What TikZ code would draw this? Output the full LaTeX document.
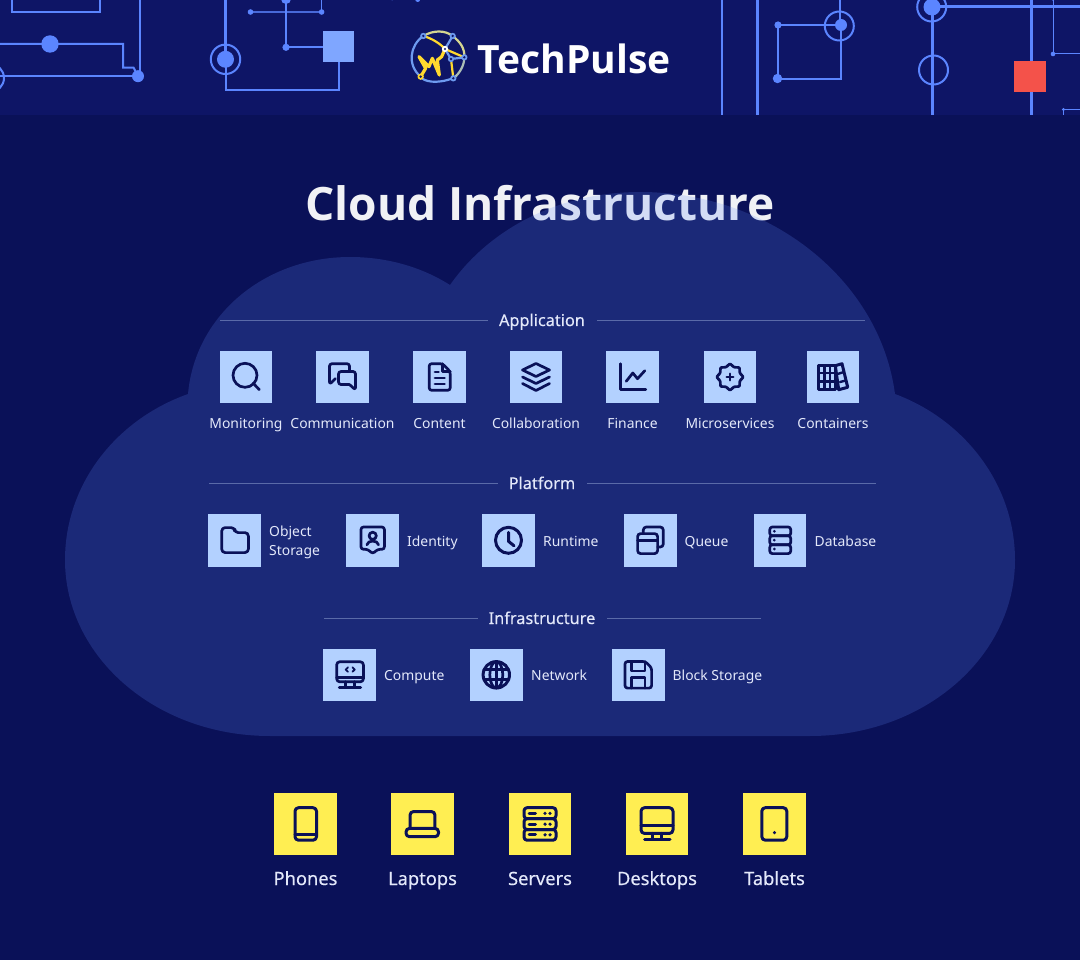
\documentclass[tikz,border=0pt]{standalone}
\usepackage{fontspec}
\setmainfont{Noto Sans}
\newfontfamily\medf[FakeBold=0.25]{Noto Sans}
\newfontfamily\boldf{Open Sans}
\definecolor{bgc}{HTML}{0A1158}
\definecolor{bandc}{HTML}{0E1566}
\definecolor{cloudc}{HTML}{5F89F8}
\definecolor{wire}{HTML}{5B85FF}
\definecolor{wirel}{HTML}{7FA6FF}
\definecolor{redc}{HTML}{F4524A}
\definecolor{tileb}{HTML}{B3D1FF}
\definecolor{tiley}{HTML}{FFEE52}
\definecolor{ink}{HTML}{0A1158}
\definecolor{labelc}{HTML}{E3E8FA}
\definecolor{rulec}{HTML}{5A6AA8}
\definecolor{logoy}{HTML}{FFD92E}
\definecolor{logob}{HTML}{6E9BF0}
\definecolor{logop}{HTML}{D5D690}
\tikzset{
  ic/.style={draw=ink,line width=2.7pt,line join=round,line cap=round},
  icy/.style={draw=ink,line width=3pt,line join=round,line cap=round},
  bluetile/.style={fill=tileb,draw=none,minimum size=52.5pt,inner sep=0pt,outer sep=0pt},
  yellowtile/.style={fill=tiley,draw=none,minimum size=62.5pt,inner sep=0pt,outer sep=0pt},
  lab/.style={text=labelc,font=\fontsize{13.9}{19}\selectfont,inner sep=0pt,align=left},
  labc/.style={lab,anchor=base},
  labl/.style={lab,anchor=base west},
  head/.style={text=labelc,font=\medf\fontsize{16.3}{18}\selectfont,inner sep=0pt,anchor=base},
  devlab/.style={text=labelc,font=\medf\fontsize{18.3}{22}\selectfont,inner sep=0pt,anchor=base},
  sec/.style={draw=rulec,line width=1pt},
  w/.style={draw=wire,line width=#1},
  w/.default=2pt,
  ring/.style={draw=wire,line width=2pt,fill=none},
  dot/.style={fill=wire,draw=none},
  %
  imon/.pic={\draw[ic] (-1,-1.7) circle (12); \draw[ic] (7.2,6.2)--(13.3,12.7);},
  icom/.pic={
    \draw[ic,rounded corners=2.5pt] (7,-6)--(7,-13.3)--(-13,-13.3)--(-13,7.5)--(-7,1.5);
    \draw[ic,rounded corners=2.5pt] (7,7.5)--(-4,7.5)--(-4,-5.5)--(13,-5.5)--(13,13)--(7,7.5);},
  idoc/.pic={
    \draw[ic,rounded corners=2.5pt] (3,-13.3)--(-10.3,-13.3)--(-10.3,13.3)--(10.7,13.3)--(10.7,-5.5)--cycle;
    \draw[ic] (3,-13.3)--(3,-5.5)--(10.7,-5.5);
    \draw[ic] (-4.5,-5)--(-1,-5) (-4.5,1)--(5,1) (-4.5,7)--(5,7);},
  ilay/.pic={
    \draw[ic] (0,-13.5)--(13.5,-7)--(0,-0.5)--(-13.5,-7)--cycle;
    \draw[ic] (-13.5,0)--(0,6.5)--(13.5,0);
    \draw[ic] (-13.5,6.5)--(0,13.5)--(13.5,6.5);},
  ifin/.pic={
    \draw[ic] (-12.3,-13.3)--(-12.3,12.7)--(13.3,12.7);
    \draw[ic] (-6.3,4.3)--(0.3,-4)--(5,1.7)--(12.3,-6.3);},
  imic/.pic={
    \draw[ic,rounded corners=1pt] (0:13.5)--(22.5:10.5)--(45:13.5)--(67.5:10.5)--(90:13.5)--(112.5:10.5)--(135:13.5)--(157.5:10.5)--(180:13.5)--(202.5:10.5)--(225:13.5)--(247.5:10.5)--(270:13.5)--(292.5:10.5)--(315:13.5)--(337.5:10.5)--cycle;
    \draw[ic] (-3.2,0)--(3.2,0) (0,-3.2)--(0,3.2);},
  iboo/.pic={
    \draw[ic,line width=3pt] (-14.3,-11.3) rectangle (2.3,12.7);
    \draw[ic,line width=2.4pt] (-8.7,-11.3)--(-8.7,12.7) (-3,-11.3)--(-3,12.7) (-14.3,-4)--(2.3,-4) (-14.3,4.3)--(2.3,4.3);
    \draw[ic,line width=3pt] (2.3,-11.3)--(9,-13.3)--(14.7,10.3)--(5.7,12.7)--cycle;
    \draw[ic,line width=2.4pt] (4.5,-3)--(11,-5) (7,5)--(13,3.5);},
  ifol/.pic={
    \draw[ic,rounded corners=3.5pt] (-13,-12.7)--(0,-12.7)--(0,-7.7)--(13.7,-7.7)--(13.7,12.3)--(-13,12.3)--cycle;},
  iide/.pic={
    \draw[ic,rounded corners=2.5pt] (-11.7,-13.3)--(11.7,-13.3)--(11.7,9)--(5,9)--(0,13.5)--(-5,9)--(-11.7,9)--cycle;
    \draw[ic] (0,-4.5) circle (3.6);
    \draw[ic] (-5.8,4.5) .. controls (-5,-0.5) and (5,-0.5) .. (5.8,4.5);},
  iclo/.pic={
    \draw[ic,line width=3pt] (0,0) circle (13);
    \draw[ic,line width=3pt] (0,-8)--(0,1)--(5.5,5.5);},
  ique/.pic={
    \draw[ic,rounded corners=3pt] (-12.7,-6.7) rectangle (7.3,13.3);
    \draw[ic] (-12.7,0)--(7.3,0);
    \draw[ic,rounded corners=3pt] (-7,-6.7)--(-7,-13.3)--(13,-13.3)--(13,6.7)--(7.3,6.7);},
  idat/.pic={
    \draw[ic,rounded corners=2.5pt] (-10.2,-13.3) rectangle (10.7,-4.5);
    \draw[ic,rounded corners=2.5pt] (-10.2,-4.5) rectangle (10.7,4.5);
    \draw[ic,rounded corners=2.5pt] (-10.2,4.5) rectangle (10.7,13.3);
    \fill[ink] (-5.7,-9) circle (1.5) (-5.7,-0.2) circle (1.5) (-5.7,8.7) circle (1.5);},
  icpu/.pic={
    \draw[ic,rounded corners=3pt] (-13,-13) rectangle (13.7,7);
    \draw[ic] (-13,2.7)--(13.7,2.7);
    \draw[ic] (-4,12.8)--(-4,7) (4.5,12.8)--(4.5,7) (-10.5,12.8)--(11,12.8);
    \draw[ic,line width=1.8pt] (-1.7,-7.5)--(-4,-5.2)--(-1.7,-3) (2.7,-7.5)--(5,-5.2)--(2.7,-3);},
  iglo/.pic={
    \draw[ic,line width=3pt] (0,0) circle (13.2);
    \draw[ic] (0,0) ellipse (6.5 and 13.2);
    \draw[ic] (0,-13.2)--(0,13.2) (-12.3,-5)--(12.3,-5) (-12.3,5)--(12.3,5);},
  iflo/.pic={
    \draw[ic,rounded corners=2.5pt] (-13.3,-13.3)--(7,-13.3)--(13.3,-7)--(13.3,13.3)--(-13.3,13.3)--cycle;
    \draw[ic] (-6.7,-13.3)--(-6.7,-3.7)--(6.7,-3.7)--(6.7,-13.3);
    \draw[ic] (-6.7,13.3)--(-6.7,2.5)--(6.7,2.5)--(6.7,13.3);},
  ipho/.pic={
    \draw[icy,rounded corners=3.5pt] (-10.5,-16.5) rectangle (11,16);
    \draw[icy] (-10.5,10)--(11,10);},
  ilap/.pic={
    \draw[icy,rounded corners=3pt] (-12.3,4.2)--(-12.3,-12.5)--(12.3,-12.5)--(12.3,4.2);
    \draw[icy,rounded corners=3.5pt] (-16.5,4.2) rectangle (16,12.5);},
  iser/.pic={
    \draw[icy,rounded corners=3pt] (-16,-16.5) rectangle (16,-5.5);
    \draw[icy,rounded corners=3pt] (-16,-5.5) rectangle (16,5.3);
    \draw[icy,rounded corners=3pt] (-16,5.3) rectangle (16,16);
    \foreach \yy in {-10.8,0,10.6}{
      \draw[icy] (-11,\yy)--(-4.5,\yy);
      \fill[ink] (5,\yy) circle (1.8) (10,\yy) circle (1.8);}},
  ides/.pic={
    \draw[icy,rounded corners=3.5pt] (-16,-16.5) rectangle (16,9.2);
    \draw[icy] (-16,1.7)--(16,1.7);
    \draw[icy] (-4.5,9.2)--(-4.5,14.8) (4.5,9.2)--(4.5,14.8) (-12.3,14.8)--(13,14.8);},
  itab/.pic={
    \draw[icy,rounded corners=3.5pt] (-12.7,-16.5) rectangle (12.3,16);
    \fill[ink] (0,8.4) circle (1.7);},
}
\begin{document}
\begin{tikzpicture}[x=1pt,y=-1pt,line cap=butt]
\useasboundingbox (0,0) rectangle (1080,960);
\fill[bgc] (0,0) rectangle (1080,960);
\fill[bandc] (0,0) rectangle (1080,115);
% header circuitry
\begin{scope}
\clip (0,0) rectangle (1080,115);
\draw[w] (12,-2)--(12,12.3)--(100,12.3)--(100,-2);
\draw[w] (139.5,-2)--(139.5,76);
\draw[w] (-2,44)--(123,44)--(123,67.7)--(133.6,67.7)--(138,76);
\draw[w] (-2,76.2)--(138,76.2);
\fill[dot] (138,76.2) circle (6);
\fill[dot] (50,44) circle (8.7);
\draw[ring] (-10,78) circle (14);
\draw[w=3pt] (225.5,-2)--(225.5,59);
\draw[w] (225.5,59)--(225.5,90)--(339,90)--(339,62);
\draw[ring] (225.5,59.3) circle (14.7);
\fill[dot] (225.5,59.3) circle (8.5);
\draw[draw=wire!75!bandc,line width=1.5pt] (250.5,12)--(321.6,12);
\draw[w=1.2pt] (321.6,-2)--(321.6,12);
\fill[dot] (250.5,12) circle (2.8) (321.6,12) circle (2.8);
\draw[w] (286,-2)--(286,47.3)--(323,47.3);
\fill[dot] (286,47.3) circle (3.6) (286,-1) circle (5);
\fill[dot] (417.7,-0.5) circle (2.5) (392,-1) circle (1.5);
\fill[wirel] (322.7,31) rectangle (354,62.3);
\draw[w=1.7pt] (721.7,-2)--(721.7,117);
\draw[w=3pt] (757.3,-2)--(757.3,117);
\draw[w] (840,-2)--(840,25);
\draw[w] (841,25)--(841,79)--(777.5,79)--(777.5,25)--(841,25);
\draw[ring] (839.3,26) circle (14.5);
\fill[dot] (841,25) circle (6) (778,25) circle (3.6) (777.5,78.5) circle (4.7);
\draw[w=2.5pt] (932.5,7)--(932.5,117);
\draw[w=3.5pt] (932,6.5)--(1082,6.5);
\draw[w=3.5pt] (1031.7,-2)--(1031.7,117);
\draw[ring] (931.7,7) circle (14.5);
\fill[dot] (932,7) circle (8.5);
\draw[ring] (933.5,70) circle (14.5);
\fill[redc] (1014,61) rectangle (1045.7,92);
\draw[w=1pt] (1053,-2)--(1053,54)--(1082,54);
\fill[dot] (1053,54) circle (2.3) (1053,-0.5) circle (1.5);
\draw[w=1pt] (1063.5,117)--(1063.5,109.5)--(1082,109.5);
\fill[dot] (1063.5,109.5) circle (1.6);
\end{scope}
% logo
\begin{scope}[shift={(405,25)},x=0.3333pt,y=-0.3333pt]
\draw[logob,line width=2.2pt] (143,160) .. controls (95,178) and (55,170) .. (47,155) .. controls (5,120) and (15,60) .. (55,33);
\draw[logop,line width=2.2pt] (55,33) .. controls (85,15) and (120,15) .. (143,33) .. controls (165,50) and (180,70) .. (178,97);
\draw[logop!60!logob,line width=2.2pt] (178,97) .. controls (178,120) and (165,145) .. (145,160);
\draw[logoy,line width=2.2pt] (55,33) .. controls (80,40) and (105,55) .. (120,72);
\draw[logob,line width=2.2pt] (143,33)--(120,72);
\draw[logoy,line width=2.2pt] (120,72)--(178,97);
\draw[logoy,line width=2.2pt] (138,102)--(145,160);
\draw[logob,line width=2.2pt] (138,102)--(178,97) (120,72)--(138,102);
\draw[logoy,line width=3.2pt,line join=round,line cap=round] (47,155)--(62,130)--(42,95)--(72,125)--(82,100)--(103,150)--(97,105)--(110,95)--(120,72);
\foreach \px/\py in {55/33,143/33,138/102,178/97,145/160}{
  \fill[logob] (\px,\py) circle (9.5); \fill[bandc] (\px,\py) circle (4);}
\fill[logoy] (47,155) circle (9.5); \fill[bandc] (47,155) circle (4);
\fill[white] (120,72) circle (9.5); \fill[bandc] (120,72) circle (3.6);
\end{scope}
\node[text=white,font=\boldf\fontsize{39}{44}\selectfont\bfseries,inner sep=0pt,anchor=base] (brand) at (574,73.5) {TechPulse};
% title under translucent cloud
\node[text=white!94!bgc,font=\boldf\fontsize{46}{52}\selectfont\bfseries,inner sep=0pt,anchor=base] (title) at (540,221) {Cloud Infrastructure};
\fill[cloudc,fill opacity=0.2] (270,736)--(810,736) .. controls (925,736) and (1015,656) .. (1015,560) .. controls (1015,485) and (965,420) .. (895,394) .. controls (880,280) and (770,192) .. (640,192) .. controls (560,192) and (490,228) .. (450,285) .. controls (420,266) and (385,257) .. (350,257) .. controls (265,257) and (195,315) .. (188,394) .. controls (115,420) and (65,485) .. (65,560) .. controls (65,656) and (155,736) .. (270,736) -- cycle;
% section heads
\node[head] (happ) at (542,326) {Application};
\node[head] (hpla) at (542,489) {Platform};
\node[head] (hinf) at (542,624) {Infrastructure};
\coordinate (a1) at (220,320.5); \coordinate (a2) at (488,320.5);
\coordinate (a3) at (597,320.5); \coordinate (a4) at (865,320.5);
\coordinate (p1) at (209,483); \coordinate (p2) at (498,483);
\coordinate (p3) at (587,483); \coordinate (p4) at (876,483);
\coordinate (i1) at (324,618); \coordinate (i2) at (478,618);
\coordinate (i3) at (607,618); \coordinate (i4) at (761,618);
\draw[sec] (a1)--(a2); \draw[sec] (a3)--(a4);
\draw[sec] (p1)--(p2); \draw[sec] (p3)--(p4);
\draw[sec] (i1)--(i2); \draw[sec] (i3)--(i4);
% application row
\node[bluetile] (t1) at (246,377) {}; \pic at (t1.center) {imon}; \node[labc] (l1) at (246,428) {Monitoring};
\node[bluetile] (t2) at (342.5,377) {}; \pic at (t2.center) {icom}; \node[labc] (l2) at (342.5,428) {Communication};
\node[bluetile] (t3) at (439.5,377) {}; \pic at (t3.center) {idoc}; \node[labc] (l3) at (439.5,428) {Content};
\node[bluetile] (t4) at (536,377) {}; \pic at (t4.center) {ilay}; \node[labc] (l4) at (536,428) {Collaboration};
\node[bluetile] (t5) at (632.5,377) {}; \pic at (t5.center) {ifin}; \node[labc] (l5) at (632.5,428) {Finance};
\node[bluetile] (t6) at (730,377) {}; \pic at (t6.center) {imic}; \node[labc] (l6) at (730,428) {Microservices};
\node[bluetile] (t7) at (833,377) {}; \pic at (t7.center) {iboo}; \node[labc] (l7) at (833,428) {Containers};
% platform row
\node[bluetile] (t8) at (234.7,540.3) {}; \pic at (t8.center) {ifol}; \node[lab,anchor=west] (l8) at (269,542) {Object\\Storage};
\node[bluetile] (t9) at (372.7,540.3) {}; \pic at (t9.center) {iide}; \node[labl] (l9) at (407,546) {Identity};
\node[bluetile] (t10) at (508.5,540.3) {}; \pic at (t10.center) {iclo}; \node[labl] (l10) at (543,546) {Runtime};
\node[bluetile] (t11) at (650.3,540.3) {}; \pic at (t11.center) {ique}; \node[labl] (l11) at (684.5,546) {Queue};
\node[bluetile] (t12) at (780,540.3) {}; \pic at (t12.center) {idat}; \node[labl] (l12) at (814.5,546) {Database};
% infrastructure row
\node[bluetile] (t13) at (349.7,674.8) {}; \pic at (t13.center) {icpu}; \node[labl] (l13) at (384,680.5) {Compute};
\node[bluetile] (t14) at (496.3,674.8) {}; \pic at (t14.center) {iglo}; \node[labl] (l14) at (531,680.5) {Network};
\node[bluetile] (t15) at (638.3,674.8) {}; \pic at (t15.center) {iflo}; \node[labl] (l15) at (672.5,680.5) {Block Storage};
% devices
\node[yellowtile] (d1) at (305.5,824.2) {}; \pic at (d1.center) {ipho}; \node[devlab] (m1) at (305.5,885) {Phones};
\node[yellowtile] (d2) at (422.5,824.2) {}; \pic at (d2.center) {ilap}; \node[devlab] (m2) at (422.5,885) {Laptops};
\node[yellowtile] (d3) at (540,824.2) {}; \pic at (d3.center) {iser}; \node[devlab] (m3) at (540,885) {Servers};
\node[yellowtile] (d4) at (657,824.2) {}; \pic at (d4.center) {ides}; \node[devlab] (m4) at (657,885) {Desktops};
\node[yellowtile] (d5) at (774.5,824.2) {}; \pic at (d5.center) {itab}; \node[devlab] (m5) at (774.5,885) {Tablets};
\end{tikzpicture}
\end{document}
